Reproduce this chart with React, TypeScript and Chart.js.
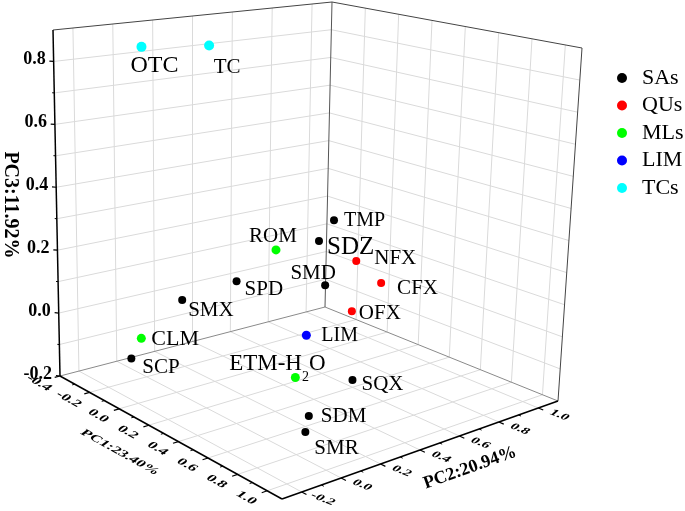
import React, { useEffect, useRef } from 'react';
import { Chart, registerables } from 'chart.js';

Chart.register(...registerables);

// ---------------- data ----------------
const SERIES_NAMES = ['SAs', 'QUs', 'MLs', 'LIM', 'TCs'];

const SAS_LABELS = ['TMP', 'SDZ', 'SMD', 'SPD', 'SMX', 'SCP', 'SQX', 'SDM', 'SMR'];
const SAS_PC1 = [0.24, 0.26, 0.25, 0.15, 0.05, 0.02, 0.61, 0.66, 0.78];
const SAS_PC2 = [0.61, 0.52, 0.565, 0.19, -0.01, -0.25, 0.43, 0.17, 0.06];
const SAS_PC3 = [0.30, 0.25, 0.10, 0.15, 0.10, -0.05, -0.10, -0.15, -0.15];

const QUS_LABELS = ['NFX', 'CFX', 'OFX'];
const QUS_PC1 = [0.40, 0.37, 0.27];
const QUS_PC2 = [0.60, 0.755, 0.69];
const QUS_PC3 = [0.20, 0.10, 0.00];

const MLS_LABELS = ['ROM', 'CLM', 'ETM-H2O'];
const MLS_PC1 = [0.25, 0.01, 0.44];
const MLS_PC2 = [0.31, -0.19, 0.27];
const MLS_PC3 = [0.25, 0.00, -0.10];

const LIM_LABELS = ['LIM'];
const LIM_PC1 = [0.38];
const LIM_PC2 = [0.37];
const LIM_PC3 = [0.00];

const TCS_LABELS = ['OTC', 'TC'];
const TCS_PC1 = [-0.22, -0.11];
const TCS_PC2 = [0.00, 0.25];
const TCS_PC3 = [0.85, 0.85];

const PC1_TICKS = [-0.4, -0.2, 0.0, 0.2, 0.4, 0.6, 0.8, 1.0];
const PC2_TICKS = [-0.2, 0.0, 0.2, 0.4, 0.6, 0.8, 1.0];
const PC3_TICKS = [-0.2, 0.0, 0.2, 0.4, 0.6, 0.8];
const PC1_MINOR = [-0.3, -0.1, 0.1, 0.3, 0.5, 0.7, 0.9];
const PC2_MINOR = [-0.1, 0.1, 0.3, 0.5, 0.7, 0.9];
const PC3_MINOR = [-0.1, 0.1, 0.3, 0.5, 0.7];
const PC3_GRID = [-0.1, 0.0, 0.1, 0.2, 0.3, 0.4, 0.5, 0.6, 0.7, 0.8];
const PC1_RANGE = [-0.4, 1.1];
const PC2_RANGE = [-0.3, 1.1];
const PC3_RANGE = [-0.2, 0.9];
const AXIS_TITLES = ['PC1:23.40%', 'PC2:20.94%', 'PC3:11.92%'];

// ---------------- layout / style ----------------
const W = 685;
const H = 511;
const SERIF = "'Liberation Serif', 'Times New Roman', serif";
const COLORS = ['#000000', '#ff0000', '#00ff00', '#0000ff', '#00ffff'];
const RADII = [4, 4, 4.5, 4.5, 5];

// view-space position of the 8 corners of the 3D box (camera of the projection)
const BOX: Record<string, number[]> = {
  c000: [60, 376], c100: [282, 499], c010: [325, 307], c110: [558, 401],
  c001: [53, 30], c101: [288, 94], c011: [332, 2], c111: [582, 48],
};

type LabelStyle = { dx: number; dy: number; align: 'left' | 'center'; size: number };
const LABEL_LAYOUT: Record<string, LabelStyle> = {
  OTC: { dx: 13, dy: 19, align: 'center', size: 24 },
  TC: { dx: 18, dy: 22, align: 'center', size: 21 },
  TMP: { dx: 10, dy: 0, align: 'left', size: 20 },
  SDZ: { dx: 8, dy: 6, align: 'left', size: 25 },
  NFX: { dx: 18, dy: -3, align: 'left', size: 21 },
  ROM: { dx: -3, dy: -13, align: 'center', size: 21 },
  SMD: { dx: -12, dy: -12, align: 'center', size: 21 },
  CFX: { dx: 16, dy: 6, align: 'left', size: 21 },
  SPD: { dx: 8, dy: 8, align: 'left', size: 21 },
  SMX: { dx: 6, dy: 10, align: 'left', size: 21 },
  OFX: { dx: 7, dy: 2, align: 'left', size: 21 },
  LIM: { dx: 15, dy: 0, align: 'left', size: 20 },
  CLM: { dx: 10, dy: 1, align: 'left', size: 22 },
  SCP: { dx: 11, dy: 9, align: 'left', size: 21 },
  'ETM-H2O': { dx: -18, dy: -14, align: 'center', size: 23 },
  SQX: { dx: 9, dy: 5, align: 'left', size: 21 },
  SDM: { dx: 12, dy: 0, align: 'left', size: 21 },
  SMR: { dx: 9, dy: 17, align: 'left', size: 21 },
};

const LEGEND = { x: 622, y0: 78, dy: 27.5, r: 5, textX: 642, size: 22 };

// ---------------- projection ----------------
function lerp(a: number[], b: number[], t: number) {
  return [a[0] + (b[0] - a[0]) * t, a[1] + (b[1] - a[1]) * t];
}
function project(p1: number, p2: number, p3: number) {
  const u = (p1 - PC1_RANGE[0]) / (PC1_RANGE[1] - PC1_RANGE[0]);
  const v = (p2 - PC2_RANGE[0]) / (PC2_RANGE[1] - PC2_RANGE[0]);
  const w = (p3 - PC3_RANGE[0]) / (PC3_RANGE[1] - PC3_RANGE[0]);
  const b0 = lerp(BOX.c000, BOX.c100, u);
  const b1 = lerp(BOX.c010, BOX.c110, u);
  const t0 = lerp(BOX.c001, BOX.c101, u);
  const t1 = lerp(BOX.c011, BOX.c111, u);
  return lerp(lerp(b0, b1, v), lerp(t0, t1, v), w);
}

const GROUPS = [
  { labels: SAS_LABELS, pc1: SAS_PC1, pc2: SAS_PC2, pc3: SAS_PC3 },
  { labels: QUS_LABELS, pc1: QUS_PC1, pc2: QUS_PC2, pc3: QUS_PC3 },
  { labels: MLS_LABELS, pc1: MLS_PC1, pc2: MLS_PC2, pc3: MLS_PC3 },
  { labels: LIM_LABELS, pc1: LIM_PC1, pc2: LIM_PC2, pc3: LIM_PC3 },
  { labels: TCS_LABELS, pc1: TCS_PC1, pc2: TCS_PC2, pc3: TCS_PC3 },
];

function drawTransformedText(
  ctx: CanvasRenderingContext2D, text: string, x: number, y: number,
  m: number[], font: string,
) {
  ctx.save();
  ctx.translate(x, y);
  ctx.transform(m[0], m[1], m[2], m[3], 0, 0);
  ctx.font = font;
  ctx.textAlign = 'center';
  ctx.textBaseline = 'middle';
  ctx.fillText(text, 0, 0);
  ctx.restore();
}

function drawRich(ctx: CanvasRenderingContext2D, text: string, x: number, y: number, size: number, align: string) {
  const tokens = text.split(/(\d+)/).filter((t) => t.length > 0);
  const main = `${size}px ${SERIF}`;
  const sub = `${Math.round(size * 0.62)}px ${SERIF}`;
  let total = 0;
  const widths = tokens.map((t) => {
    ctx.font = /^\d+$/.test(t) ? sub : main;
    const wv = ctx.measureText(t).width;
    total += wv;
    return wv;
  });
  let cx = align === 'center' ? x - total / 2 : x;
  ctx.textAlign = 'left';
  ctx.textBaseline = 'middle';
  tokens.forEach((t, i) => {
    const isSub = /^\d+$/.test(t);
    ctx.font = isSub ? sub : main;
    ctx.fillText(t, cx, isSub ? y + size * 0.6 : y);
    cx += widths[i];
  });
}

const frame3d = {
  id: 'frame3d',
  beforeDatasetsDraw(chart: any) {
    const ctx = chart.ctx as CanvasRenderingContext2D;
    const sx = chart.scales.x;
    const sy = chart.scales.y;
    const P = (a: number, b: number, c: number) => {
      const [x, y] = project(a, b, c);
      return [sx.getPixelForValue(x), sy.getPixelForValue(y)];
    };
    const [x0, x1] = PC1_RANGE;
    const [y0, y1] = PC2_RANGE;
    const [z0, z1] = PC3_RANGE;
    const seg = (p: number[], q: number[], color: string, width: number) => {
      ctx.beginPath();
      ctx.strokeStyle = color;
      ctx.lineWidth = width;
      ctx.moveTo(p[0], p[1]);
      ctx.lineTo(q[0], q[1]);
      ctx.stroke();
    };
    ctx.save();
    const GRID = '#dadada';
    // left wall (PC1 = min)
    PC2_TICKS.forEach((v) => seg(P(x0, v, z0), P(x0, v, z1), GRID, 1));
    PC3_GRID.forEach((z) => seg(P(x0, y0, z), P(x0, y1, z), GRID, 1));
    // back wall (PC2 = max)
    PC1_TICKS.forEach((u) => { if (u > x0) seg(P(u, y1, z0), P(u, y1, z1), GRID, 1); });
    PC3_GRID.forEach((z) => seg(P(x0, y1, z), P(x1, y1, z), GRID, 1));
    // floor
    PC1_TICKS.forEach((u) => { if (u > x0) seg(P(u, y0, z0), P(u, y1, z0), GRID, 1); });
    PC2_TICKS.forEach((v) => seg(P(x0, v, z0), P(x1, v, z0), GRID, 1));

    // box edges
    seg(P(x0, y0, z0), P(x0, y1, z0), '#8a8a8a', 1);
    seg(P(x0, y1, z0), P(x1, y1, z0), '#8a8a8a', 1);
    seg(P(x0, y1, z0), P(x0, y1, z1), '#555555', 1);
    seg(P(x1, y1, z0), P(x1, y1, z1), '#444444', 1);
    seg(P(x0, y0, z1), P(x0, y1, z1), '#444444', 1);
    seg(P(x0, y1, z1), P(x1, y1, z1), '#444444', 1);

    // axes
    seg(P(x0, y0, z0), P(x0, y0, z1), '#000', 1.5);
    seg(P(x0, y0, z0), P(x1, y0, z0), '#000', 1.5);
    seg(P(x1, y0, z0), P(x1, y1, z0), '#000', 1.5);

    // ticks
    PC3_TICKS.forEach((z) => seg(P(x0, y0, z), P(x0 - 0.012, y0 - 0.012, z), '#000', 1.2));
    PC3_MINOR.forEach((z) => seg(P(x0, y0, z), P(x0 - 0.006, y0 - 0.006, z), '#000', 1));
    PC1_TICKS.forEach((u) => seg(P(u, y0, z0), P(u, y0 - 0.028, z0), '#000', 1.2));
    PC1_MINOR.forEach((u) => seg(P(u, y0, z0), P(u, y0 - 0.014, z0), '#000', 1));
    PC2_TICKS.forEach((v) => seg(P(x1, v, z0), P(x1 + 0.032, v, z0), '#000', 1.2));
    PC2_MINOR.forEach((v) => seg(P(x1, v, z0), P(x1 + 0.016, v, z0), '#000', 1));

    // tick labels
    ctx.fillStyle = '#000';
    ctx.font = `bold 18px ${SERIF}`;
    ctx.textAlign = 'right';
    ctx.textBaseline = 'middle';
    PC3_TICKS.forEach((z) => {
      const p = P(x0, y0, z);
      ctx.fillText(z.toFixed(1), p[0] - 8, p[1] - 2);
    });
    const M1 = [0.875, 0.485, -0.6, 0.45];
    PC1_TICKS.forEach((u) => {
      const p = P(u, y0, z0);
      drawTransformedText(ctx, u.toFixed(1), p[0] - 21, p[1] + 7, M1, `bold 16px ${SERIF}`);
    });
    const M2 = [0.93, 0.37, -0.55, 0.5];
    PC2_TICKS.forEach((v) => {
      const p = P(x1, v, z0);
      drawTransformedText(ctx, v.toFixed(1), p[0] + 21, p[1] + 7, M2, `bold 15px ${SERIF}`);
    });

    // axis titles
    const m1 = P((x0 + x1) / 2, y0, z0);
    drawTransformedText(ctx, AXIS_TITLES[0], m1[0] - 51, m1[1] + 15, M1, `bold 16px ${SERIF}`);
    const m2 = P(x1, (y0 + y1) / 2, z0);
    drawTransformedText(ctx, AXIS_TITLES[1], m2[0] + 50, m2[1] + 18, [0.942, -0.335, 0.335, 0.942], `bold 18px ${SERIF}`);
    const m3 = P(x0, y0, (z0 + z1) / 2);
    drawTransformedText(ctx, AXIS_TITLES[2], m3[0] - 46, m3[1] + 2, [0, 1, -1, 0], `bold 20px ${SERIF}`);
    ctx.restore();
  },
  afterDatasetsDraw(chart: any) {
    const ctx = chart.ctx as CanvasRenderingContext2D;
    ctx.save();
    ctx.fillStyle = '#000';
    chart.data.datasets.forEach((ds: any, k: number) => {
      const meta = chart.getDatasetMeta(k);
      meta.data.forEach((el: any, i: number) => {
        const name = ds.data[i].name as string;
        const st = LABEL_LAYOUT[name] || { dx: 8, dy: 0, align: 'left', size: 21 };
        drawRich(ctx, name, el.x + st.dx, el.y + st.dy, st.size, st.align);
      });
    });
    // legend
    chart.data.datasets.forEach((ds: any, k: number) => {
      const y = LEGEND.y0 + k * LEGEND.dy;
      ctx.beginPath();
      ctx.fillStyle = ds.backgroundColor;
      ctx.arc(LEGEND.x, y, LEGEND.r, 0, Math.PI * 2);
      ctx.fill();
      ctx.fillStyle = '#000';
      ctx.font = `${LEGEND.size}px ${SERIF}`;
      ctx.textAlign = 'left';
      ctx.textBaseline = 'middle';
      ctx.fillText(ds.label, LEGEND.textX, y);
    });
    ctx.restore();
  },
};

export default function App() {
  const ref = useRef<HTMLCanvasElement>(null);
  useEffect(() => {
    if (!ref.current) return;
    const datasets = GROUPS.map((g, k) => ({
      label: SERIES_NAMES[k],
      data: g.labels.map((name, i) => {
        const [x, y] = project(g.pc1[i], g.pc2[i], g.pc3[i]);
        return { x, y, name };
      }),
      backgroundColor: COLORS[k],
      borderColor: COLORS[k],
      borderWidth: 0,
      pointRadius: RADII[k],
      pointHoverRadius: RADII[k],
    }));
    const chart = new Chart(ref.current, {
      type: 'scatter',
      data: { datasets } as any,
      options: {
        animation: false,
        responsive: false,
        devicePixelRatio: 1,
        events: [],
        layout: { padding: 0, autoPadding: false },
        plugins: { legend: { display: false }, tooltip: { enabled: false }, title: { display: false } },
        scales: {
          x: { type: 'linear', min: 0, max: W, display: false },
          y: { type: 'linear', min: 0, max: H, reverse: true, display: false },
        },
      } as any,
      plugins: [frame3d],
    });
    return () => chart.destroy();
  }, []);
  return (
    <div style={{ position: 'fixed', left: 0, top: 0, width: W, height: H, background: '#fff' }}>
      <canvas ref={ref} width={W} height={H} style={{ display: 'block', width: W, height: H }} />
    </div>
  );
}
